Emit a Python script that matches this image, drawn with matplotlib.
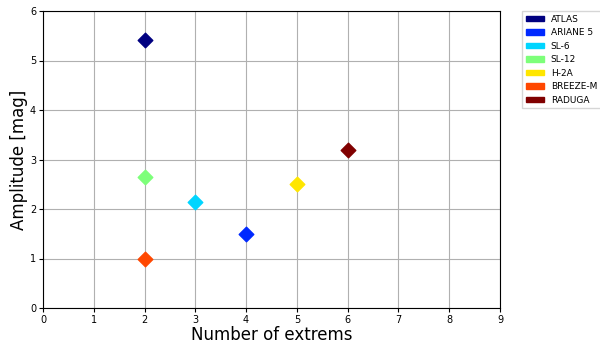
import matplotlib
matplotlib.use("Agg")
import matplotlib.pyplot as plt
import matplotlib.patches as mpatches
import numpy as np

rockets = ["ATLAS", "ARIANE 5", "SL-6", "SL-12", "H-2A", "BREEZE-M", "RADUGA"]
extrems = [2, 4, 3, 2, 5, 2, 6]
amplitude = [5.42, 1.5, 2.15, 2.65, 2.5, 1.0, 3.2]

colors = plt.cm.jet(np.linspace(0, 1, len(rockets)))

fig = plt.figure(figsize=(6, 3.43), dpi=100)
ax = fig.add_axes([43 / 600, 35 / 343, 457 / 600, 297 / 343])

handles = []
for name, x, y, c in zip(rockets, extrems, amplitude, colors):
    ax.scatter(x, y, marker="D", s=55, color=c, zorder=3)
    handles.append(mpatches.Patch(color=c, label=name))

ax.set_xlim(0, 9)
ax.set_ylim(0, 6)
ax.set_xticks(range(0, 10))
ax.set_yticks(range(0, 7))
ax.tick_params(labelsize=7, length=3, pad=2)
ax.grid(True, color="#b0b0b0", linewidth=0.8)
ax.set_axisbelow(True)
ax.set_xlabel("Number of extrems", fontsize=12, labelpad=1)
ax.set_ylabel("Amplitude [mag]", fontsize=12, labelpad=1)

ax.legend(handles=handles, loc="upper left", bbox_to_anchor=(1.048, 1.0),
          fontsize=6.5, borderaxespad=0, handlelength=2.0, handleheight=0.6,
          labelspacing=0.5, fancybox=False)

fig.savefig("out.png", dpi=100)
